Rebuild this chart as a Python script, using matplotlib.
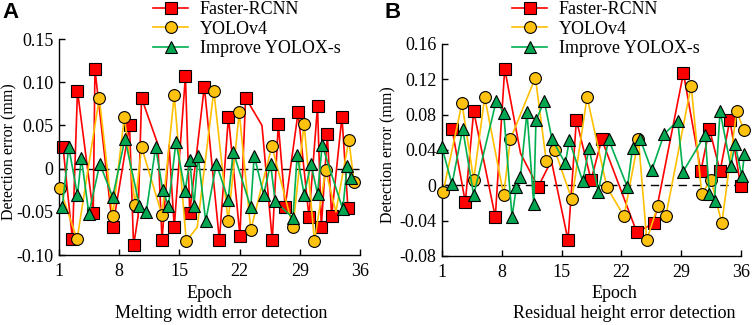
import numpy as np
import matplotlib
matplotlib.use("Agg")
import matplotlib.pyplot as plt
from matplotlib.lines import Line2D

plt.rcParams['font.family'] = ['Liberation Serif', 'DejaVu Serif']

# ---------------- data (epoch, detection error in mm) ----------------
series_names = ["Faster-RCNN", "YOLOv4", "Improve YOLOX-s"]

# Panel A: Melting width error detection
a_red_x = [1.47, 2.56, 3.15, 4.98, 5.18, 7.24, 9.20, 9.67, 10.2, 10.6, 11.4, 12.5, 12.98, 13.8, 14.4,
           15.7, 16.2, 17.9, 19.65, 20.7, 22.04, 22.7, 24.6, 25.8, 26.5, 27.3, 28.8, 30.07, 31.06,
           31.5, 32.2, 32.7, 33.9, 34.6]
a_red_y = [0.025, -0.082, 0.090, -0.051, 0.115, -0.068, 0.050, -0.089, -0.055, 0.082, 0.059, 0.028,
           -0.083, 0.027, -0.068, 0.107, -0.051, 0.095, -0.083, 0.060, -0.078, 0.082, 0.050, -0.083,
           0.052, -0.044, 0.065, -0.056, 0.072, -0.068, 0.040, -0.055, 0.060, -0.046]
a_red_plain = [8, 10, 11, 13, 22]

a_yel_x = [1.08, 3.10, 5.68, 7.24, 8.60, 9.86, 10.6, 12.98, 14.4, 15.8, 17.07, 19.0, 20.67, 21.96,
           23.3, 25.75, 28.2, 29.5, 30.7, 32.0, 33.2, 34.7, 35.3]
a_yel_y = [-0.022, -0.082, 0.082, -0.055, 0.060, -0.042, 0.025, -0.054, 0.085, -0.084, -0.068, 0.090,
           -0.061, 0.065, -0.071, 0.026, -0.068, 0.052, -0.084, -0.002, -0.050, 0.033, -0.015]
a_yel_plain = [10, 20]

a_grn_x = [1.39, 2.13, 3.15, 3.6, 4.47, 5.75, 7.24, 8.67, 10.35, 11.15, 12.24, 13.06, 13.73, 14.6,
           15.67, 16.2, 16.7, 17.17, 18.06, 19.3, 20.67, 21.26, 23.3, 23.7, 24.8, 25.6, 26.14, 28.2,
           28.7, 29.5, 30.3, 31.06, 31.6, 34.0, 34.5, 34.96]
a_grn_y = [-0.044, 0.025, -0.031, 0.0125, -0.052, 0.0056, -0.033, 0.0345, -0.043, -0.050, 0.025,
           -0.025, -0.043, 0.031, -0.026, 0.0095, -0.043, 0.015, -0.061, 0.0056, -0.036, 0.0195,
           -0.045, 0.015, -0.030, 0.0056, -0.038, -0.057, 0.0156, -0.030, 0.005, -0.029, 0.027,
           -0.047, 0.003, -0.011]
a_grn_plain = []

# Panel B: Residual height error detection
b_red_x = [2.17, 3.73, 4.71, 7.24, 8.34, 10.2, 12.24, 13.8, 15.75, 16.73, 18.45, 19.7, 23.8, 25.8,
           29.26, 31.3, 32.3, 33.55, 34.7, 35.97]
b_red_y = [0.064, -0.019, 0.084, -0.036, 0.132, 0.036, -0.002, 0.028, -0.062, 0.074, 0.006, 0.052,
           -0.053, -0.043, 0.127, 0.016, 0.064, 0.016, 0.074, -0.001]
b_red_plain = [5, 7]

b_yel_x = [1.12, 3.34, 4.71, 6.0, 8.22, 9.0, 11.93, 13.2, 14.2, 16.2, 17.98, 20.3, 22.3, 24.0, 24.97,
           26.26, 27.2, 30.16, 31.4, 32.5, 33.75, 35.5, 36.3]
b_yel_y = [-0.008, 0.093, 0.006, 0.100, -0.011, 0.052, 0.122, 0.028, 0.040, -0.016, 0.100, -0.002,
           -0.035, 0.052, -0.062, -0.023, -0.035, 0.113, -0.0095, 0.006, -0.043, 0.084, 0.063]
b_yel_plain = []

b_grn_x = [1.0, 2.17, 3.42, 4.71, 7.36, 8.22, 9.2, 9.7, 10.17, 10.95, 11.74, 12.0, 12.98, 13.88,
           15.44, 15.9, 17.47, 18.2, 19.3, 20.5, 22.7, 23.3, 24.2, 25.55, 27.0, 28.6, 29.2, 31.8,
           32.3, 32.9, 33.55, 34.8, 35.3, 36.1, 36.4]
b_grn_y = [0.043, 0.001, 0.064, -0.011, 0.096, 0.082, -0.036, -0.002, 0.009, 0.083, -0.021, 0.074,
           0.095, 0.052, 0.025, 0.051, 0.0045, 0.042, -0.007, 0.052, -0.002, 0.042, 0.052, 0.017,
           0.058, 0.073, 0.015, 0.0575, -0.0095, -0.018, 0.084, 0.0215, 0.047, 0.010, 0.035]
b_grn_plain = []

x_ticks = [1, 8, 15, 22, 29, 36]
a_yticks = [-0.10, -0.05, 0, 0.05, 0.10, 0.15]
a_ytick_labels = ["-0.10", "-0.05", "0", "0.05", "0.10", "0.15"]
b_yticks = [-0.08, -0.04, 0, 0.04, 0.08, 0.12, 0.16]
b_ytick_labels = ["-0.08", "-0.04", "0", "0.04", "0.08", "0.12", "0.16"]
a_title = "Melting width error detection"
b_title = "Residual height error detection"

# ---------------- styling ----------------
colors = ["#FF0000", "#FFC000", "#00B050"]
face = ["#FF0000", "#FFC20E", "#00A650"]
markers = ["s", "o", "^"]
FS = 13
W, H = 754, 325

fig = plt.figure(figsize=(W / 100, H / 100), dpi=100)
axA = fig.add_axes([59 / W, 1 - 255 / H, (360 - 59) / W, (255 - 39) / H])
axB = fig.add_axes([442 / W, 1 - 256 / H, (741 - 442) / W, (256 - 44) / H])


def draw(ax, data):
    ax.axhline(0, color="black", lw=1.0, ls=(0, (6, 4)), zorder=1.5)
    for i, (xs, ys, plain) in enumerate(data):
        xs = np.asarray(xs)
        ys = np.asarray(ys)
        ax.plot(xs, ys, color=colors[i], lw=1.2, zorder=2 + i, clip_on=False)
        mask = np.ones(len(xs), bool)
        mask[plain] = False
        ax.plot(xs[mask], ys[mask], ls="none", marker=markers[i], ms=8.5 if i != 2 else 9,
                mfc=face[i], mec="black", mew=0.8, zorder=2.5 + i, clip_on=False)
    ax.set_xlim(1, 36)
    ax.set_xticks(x_ticks)
    ax.set_xticklabels([str(t) for t in x_ticks])
    for s in ["top", "right"]:
        ax.spines[s].set_visible(False)
    for s in ["left", "bottom"]:
        ax.spines[s].set_linewidth(1.0)
    ax.tick_params(direction="in", length=4, width=1.0, labelsize=FS)
    ax.tick_params(axis="x", pad=6)
    ax.tick_params(axis="y", pad=4)
    ax.set_ylabel("Detection error (mm)", fontsize=11.5, va="center")
    ax.set_xlabel("Epoch", fontsize=FS)


draw(axA, [(a_red_x, a_red_y, a_red_plain), (a_yel_x, a_yel_y, a_yel_plain),
           (a_grn_x, a_grn_y, a_grn_plain)])
axA.set_ylim(-0.10, 0.15)
axA.set_yticks(a_yticks)
axA.set_yticklabels(a_ytick_labels)
axA.yaxis.set_label_coords((9.5 - 59) / 301, 0.48)
axA.xaxis.set_label_coords((209 - 59) / 301, -(293 - 255) / 216)
axA.xaxis.label.set_va("center")

draw(axB, [(b_red_x, b_red_y, b_red_plain), (b_yel_x, b_yel_y, b_yel_plain),
           (b_grn_x, b_grn_y, b_grn_plain)])
axB.set_ylim(-0.08, 0.16)
axB.set_yticks(b_yticks)
axB.set_yticklabels(b_ytick_labels)
axB.yaxis.set_label_coords((388.5 - 442) / 299, 0.48)
axB.xaxis.set_label_coords((614 - 442) / 299, -(293 - 256) / 212)
axB.xaxis.label.set_va("center")

fig.text(221 / W, 1 - 314 / H, a_title, ha="center", va="center", fontsize=FS)
fig.text(624 / W, 1 - 314 / H, b_title, ha="center", va="center", fontsize=FS)

fig.text(2 / W, 1 - 2 / H, "A", ha="left", va="top", fontsize=16, fontweight="bold",
         family="Liberation Sans")
fig.text(384 / W, 1 - 2 / H, "B", ha="left", va="top", fontsize=16, fontweight="bold",
         family="Liberation Sans")

handles = [Line2D([], [], color=colors[i], lw=1.2, marker=markers[i], ms=8.5,
                  mfc=face[i], mec="black", mew=0.8) for i in range(3)]
for x0 in (153, 512):
    fig.legend(handles, series_names, loc="upper left", bbox_to_anchor=(x0 / W, 1.0 - 1 / H),
               frameon=False, fontsize=FS, handlelength=1.95, handletextpad=0.65,
               labelspacing=0.15, borderpad=0.0, borderaxespad=0.0)

fig.savefig("out.png", dpi=100)
